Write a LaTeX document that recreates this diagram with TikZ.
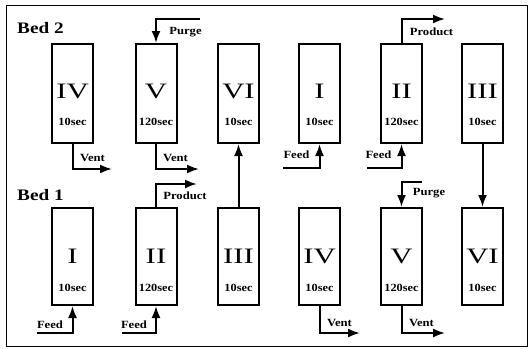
\documentclass[tikz,border=0pt]{standalone}
\usepackage{fontspec}
\setmainfont{Liberation Serif}
\usetikzlibrary{arrows.meta}
\begin{document}
\begin{tikzpicture}[x=1pt,y=-1pt,
  bedbox/.style={draw,line width=2pt,minimum width=41pt,inner sep=0pt},
  upper/.style={bedbox,minimum height=99pt},
  lower/.style={bedbox,minimum height=97pt},
  numeral/.style={font=\fontsize{22}{22}\selectfont,xscale=1.4,inner sep=0pt},
  secs/.style={font=\fontsize{11}{11}\selectfont\bfseries,xscale=1.12,inner sep=0pt},
  lbl/.style={font=\fontsize{11}{11}\selectfont\bfseries,xscale=1.15,inner sep=0pt},
  bedlbl/.style={font=\fontsize{16}{16}\selectfont\bfseries,xscale=1.2,inner sep=0pt,anchor=west},
  flow/.style={line width=2pt,-{Latex[length=12pt,width=9pt]}}]
\useasboundingbox (0,0) rectangle (529,348);
\draw[line width=1pt] (6,5) rectangle (527,346);

% Bed 2
\node[bedlbl] (bed2) at (17,28) {Bed 2};
\node[upper] (u1) at (72.5,93.5) {};
\node[upper] (u2) at (156,93.5) {};
\node[upper] (u3) at (238.5,93.5) {};
\node[upper] (u4) at (319.5,93.5) {};
\node[upper] (u5) at (401.5,93.5) {};
\node[upper] (u6) at (482.5,93.5) {};
\node[numeral] (un1) at ([yshift=2pt]u1.center) {IV};
\node[numeral] (un2) at ([yshift=2pt]u2.center) {V};
\node[numeral] (un3) at ([yshift=2pt]u3.center) {VI};
\node[numeral] (un4) at ([yshift=2pt]u4.center) {I};
\node[numeral] (un5) at ([yshift=2pt]u5.center) {II};
\node[numeral] (un6) at ([yshift=2pt]u6.center) {III};
\node[secs] (us1) at ([yshift=-28.5pt]u1.center) {10sec};
\node[secs] (us2) at ([yshift=-28.5pt]u2.center) {120sec};
\node[secs] (us3) at ([yshift=-28.5pt]u3.center) {10sec};
\node[secs] (us4) at ([yshift=-28.5pt]u4.center) {10sec};
\node[secs] (us5) at ([yshift=-28.5pt]u5.center) {120sec};
\node[secs] (us6) at ([yshift=-28.5pt]u6.center) {10sec};

% Bed 1
\node[bedlbl] (bed1) at (17,195) {Bed 1};
\node[lower] (l1) at (72.5,256.5) {};
\node[lower] (l2) at (156,256.5) {};
\node[lower] (l3) at (238.5,256.5) {};
\node[lower] (l4) at (319.5,256.5) {};
\node[lower] (l5) at (401.5,256.5) {};
\node[lower] (l6) at (482.5,256.5) {};
\node[numeral] (ln1) at (l1.center) {I};
\node[numeral] (ln2) at (l2.center) {II};
\node[numeral] (ln3) at (l3.center) {III};
\node[numeral] (ln4) at (l4.center) {IV};
\node[numeral] (ln5) at (l5.center) {V};
\node[numeral] (ln6) at (l6.center) {VI};
\node[secs] (ls1) at ([yshift=-31pt]l1.center) {10sec};
\node[secs] (ls2) at ([yshift=-31pt]l2.center) {120sec};
\node[secs] (ls3) at ([yshift=-31pt]l3.center) {10sec};
\node[secs] (ls4) at ([yshift=-31pt]l4.center) {10sec};
\node[secs] (ls5) at ([yshift=-31pt]l5.center) {120sec};
\node[secs] (ls6) at ([yshift=-31pt]l6.center) {10sec};

% coordinates of free ends
\coordinate (ve1) at (112,169);
\coordinate (ps2) at (200,19);
\coordinate (ve2) at (199,169);
\coordinate (fs4) at (283,168);
\coordinate (fs5) at (367,168);
\coordinate (pe5) at (445,19);
\coordinate (fl1) at (37,333);
\coordinate (fl2) at (122,333);
\coordinate (pl2) at (197,184);
\coordinate (vl4) at (360,333);
\coordinate (ql5) at (422,182);
\coordinate (vl5) at (445,333);

% connectors bed 2
\draw[flow] (u1.south) |- (ve1);
\draw[flow] (ps2) -| (u2.north);
\draw[flow] (u2.south) |- (ve2);
\draw[flow] (fs4) -| (u4.south);
\draw[flow] (fs5) -| (u5.south);
\draw[flow] (u5.north) |- (pe5);
\draw[flow] (l3.north) -- (u3.south);
\draw[flow] (u6.south) -- (l6.north);
% connectors bed 1
\draw[flow] (fl1) -| (l1.south);
\draw[flow] (fl2) -| (l2.south);
\draw[flow] (l2.north) |- (pl2);
\draw[flow] (l4.south) |- (vl4);
\draw[flow] (ql5) -| (l5.north);
\draw[flow] (l5.south) |- (vl5);

% labels
\node[lbl] (t1) at (92.5,158) {Vent};
\node[lbl] (t2) at (185.5,32) {Purge};
\node[lbl] (t3) at (175.5,158) {Vent};
\node[lbl] (t4) at (296.5,155) {Feed};
\node[lbl] (t5) at (378.5,155) {Feed};
\node[lbl] (t6) at (431.5,32) {Product};
\node[lbl] (t7) at (50,325) {Feed};
\node[lbl] (t8) at (134,325) {Feed};
\node[lbl] (t9) at (185,196) {Product};
\node[lbl] (t10) at (339.5,323) {Vent};
\node[lbl] (t11) at (429,193) {Purge};
\node[lbl] (t12) at (421.5,323) {Vent};
\end{tikzpicture}
\end{document}
